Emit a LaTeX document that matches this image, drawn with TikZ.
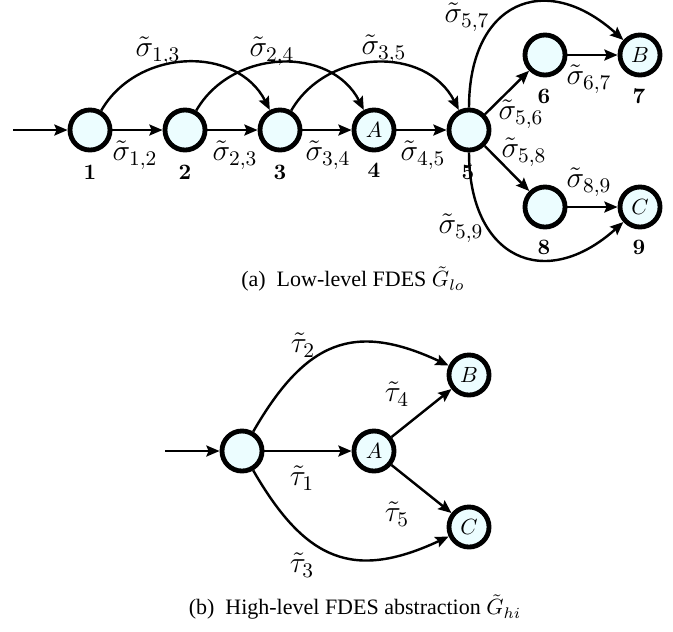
\RequirePackage{fix-cm}
\documentclass[tikz,border=0pt]{standalone}
\usepackage{fontspec}
\setmainfont{Liberation Serif}
\usetikzlibrary{arrows.meta}

\definecolor{statefill}{RGB}{236,253,255}

\tikzset{
  state/.style={circle, draw=black, line width=2.2pt, fill=statefill,
    minimum size=18.2pt, inner sep=0pt},
  trans/.style={line width=1.1pt, -{Stealth[length=6pt,width=5pt,inset=1pt]}},
  elbl/.style={inner sep=0pt, font=\fontsize{13.5}{16}\selectfont},
  num/.style={inner sep=0pt, font=\fontspec{Latin Modern Roman}\bfseries},
  capt/.style={inner sep=0pt},
}

\begin{document}
\begin{tikzpicture}[x=0.4545pt, y=-0.4545pt]
\useasboundingbox (0,0) rectangle (673,631);

% ---------- low-level FDES ----------
\coordinate (s1) at (13,130);
\node[state] (n1) at (90,130) {};
\node[state] (n2) at (185,130) {};
\node[state] (n3) at (280,130) {};
\node[state] (n4) at (374,130) {$A$};
\node[state] (n5) at (469,130) {};
\node[state] (n6) at (545,55) {};
\node[state] (n7) at (640,55) {$B$};
\node[state] (n8) at (545,207) {};
\node[state] (n9) at (640,207) {$C$};

\node[num] (k1) at (90,172) {1};
\node[num] (k2) at (185,172) {2};
\node[num] (k3) at (280,172) {3};
\node[num] (k4) at (374,170) {4};
\node[num] (k5) at (468,172) {5};
\node[num] (k6) at (544,96) {6};
\node[num] (k7) at (639,96) {7};
\node[num] (k8) at (544,247) {8};
\node[num] (k9) at (639,247) {9};

\draw[trans] (s1) -- (n1);
\draw[trans] (n1) -- (n2);
\draw[trans] (n2) -- (n3);
\draw[trans] (n3) -- (n4);
\draw[trans] (n4) -- (n5);
\draw[trans] (n5) -- (n6);
\draw[trans] (n5) -- (n8);
\draw[trans] (n6) -- (n7);
\draw[trans] (n8) -- (n9);
\draw[trans] (n1) to[out=60,in=117,looseness=1.1] (n3);
\draw[trans] (n2) to[out=60,in=117,looseness=1.1] (n4);
\draw[trans] (n3) to[out=60,in=117,looseness=1.1] (n5);
\draw[trans] (n5) to[out=90,in=138,looseness=1.6] (n7);
\draw[trans] (n5) to[out=-90,in=-138,looseness=1.6] (n9);

\node[elbl] (l12) at (135,155) {$\tilde{\sigma}_{1,2}$};
\node[elbl] (l23) at (235,155) {$\tilde{\sigma}_{2,3}$};
\node[elbl] (l34) at (328,155) {$\tilde{\sigma}_{3,4}$};
\node[elbl] (l45) at (423,155) {$\tilde{\sigma}_{4,5}$};
\node[elbl] (l13) at (158,51) {$\tilde{\sigma}_{1,3}$};
\node[elbl] (l24) at (272,51) {$\tilde{\sigma}_{2,4}$};
\node[elbl] (l35) at (384,49) {$\tilde{\sigma}_{3,5}$};
\node[elbl] (l57) at (467,17) {$\tilde{\sigma}_{5,7}$};
\node[elbl] (l56) at (521,114) {$\tilde{\sigma}_{5,6}$};
\node[elbl] (l58) at (524,152) {$\tilde{\sigma}_{5,8}$};
\node[elbl] (l67) at (589,79) {$\tilde{\sigma}_{6,7}$};
\node[elbl] (l89) at (589,182) {$\tilde{\sigma}_{8,9}$};
\node[elbl] (l59) at (461,228) {$\tilde{\sigma}_{5,9}$};

\node[capt] (capa) at (353,279) {(a)\enspace Low-level FDES $\tilde{G}_{lo}$};

% ---------- high-level abstraction ----------
\coordinate (s2) at (165,451);
\node[state] (m0) at (242,451) {};
\node[state] (mA) at (374,451) {$A$};
\node[state] (mB) at (469,375) {$B$};
\node[state] (mC) at (469,527) {$C$};

\draw[trans] (s2) -- (m0);
\draw[trans] (m0) -- (mA);
\draw[trans] (mA) -- (mB);
\draw[trans] (mA) -- (mC);
\draw[trans] (m0) to[out=60,in=155,looseness=1.3] (mB);
\draw[trans] (m0) to[out=-60,in=-155,looseness=1.3] (mC);

\node[elbl] (t2) at (303,345) {$\tilde{\tau}_{2}$};
\node[elbl] (t4) at (397,394) {$\tilde{\tau}_{4}$};
\node[elbl] (t1) at (302,478) {$\tilde{\tau}_{1}$};
\node[elbl] (t5) at (397,514) {$\tilde{\tau}_{5}$};
\node[elbl] (t3) at (302,565) {$\tilde{\tau}_{3}$};

\node[capt] (capb) at (355,607) {(b)\enspace High-level FDES abstraction $\tilde{G}_{hi}$};
\end{tikzpicture}
\end{document}
